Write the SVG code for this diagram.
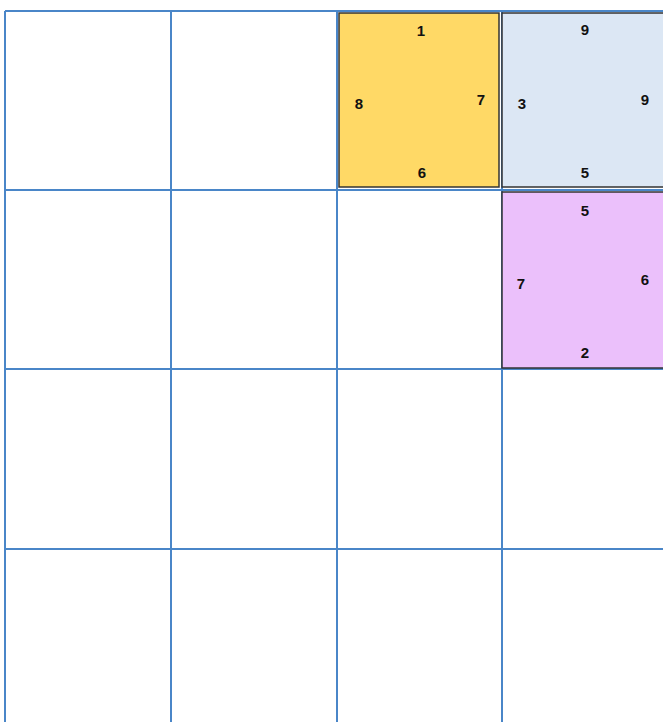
<svg xmlns="http://www.w3.org/2000/svg" width="663" height="722" viewBox="0 0 663 722">
<style>
.grid{stroke:#4a86c8;stroke-width:2;fill:none}
.box{stroke:#333;stroke-width:1.5}
text{font-family:"Liberation Sans",Arial,sans-serif;font-size:15px;font-weight:bold;fill:#111;text-anchor:middle;dominant-baseline:central}
</style>
<rect width="663" height="722" fill="#fff"/>
<g id="grid" class="grid">
<line x1="5" y1="11" x2="5" y2="722"/>
<line x1="171" y1="11" x2="171" y2="722"/>
<line x1="337" y1="11" x2="337" y2="722"/>
<line x1="502" y1="11" x2="502" y2="722"/>
<line x1="5" y1="11" x2="663" y2="11"/>
<line x1="5" y1="190" x2="663" y2="190"/>
<line x1="5" y1="369" x2="663" y2="369"/>
<line x1="5" y1="549" x2="663" y2="549"/>
</g>
<g id="yellow">
<rect class="box" x="339" y="13" width="160" height="174" fill="#ffd966"/>
<text x="421" y="30">1</text>
<text x="359" y="103">8</text>
<text x="481" y="99">7</text>
<text x="422" y="172">6</text>
</g>
<g id="blue">
<rect class="box" x="502" y="13" width="163" height="174" fill="#dce7f4"/>
<text x="585" y="29">9</text>
<text x="522" y="103">3</text>
<text x="645" y="99">9</text>
<text x="585" y="172">5</text>
</g>
<g id="pink">
<rect class="box" x="502" y="192" width="163" height="176" fill="#ebc0fb"/>
<text x="585" y="210">5</text>
<text x="521" y="283">7</text>
<text x="645" y="279">6</text>
<text x="585" y="352">2</text>
</g>
<g id="connectors"></g>
</svg>
